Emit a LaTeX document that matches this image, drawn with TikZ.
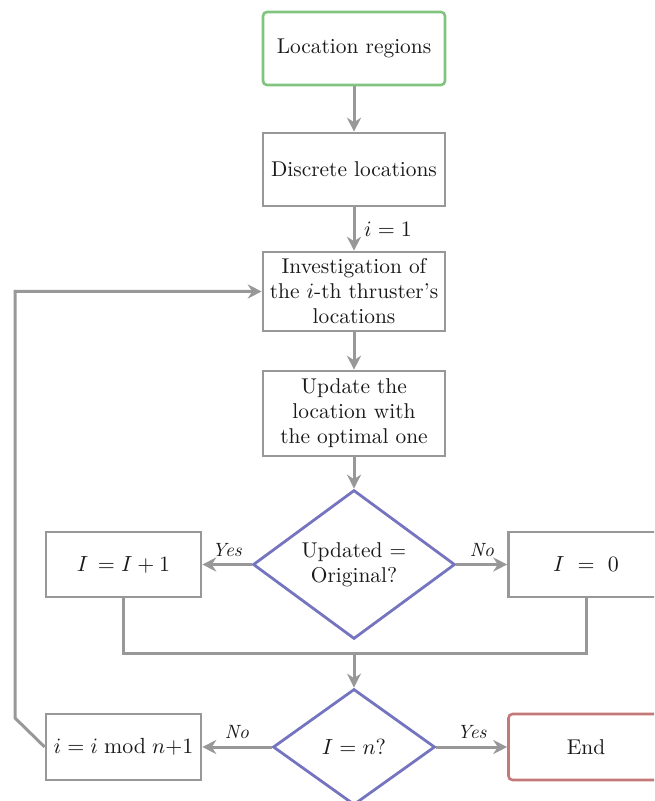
\documentclass[tikz,border=0pt]{standalone}
\usetikzlibrary{shapes.geometric,arrows.meta}
\definecolor{lgray}{RGB}{152,152,152}
\definecolor{lgreen}{RGB}{128,196,128}
\definecolor{lblue}{RGB}{116,116,192}
\definecolor{lred}{RGB}{196,120,120}
\begin{document}
\begin{tikzpicture}[x=0.5pt,y=-0.5pt,
  every node/.style={font=\fontsize{10.7}{12.5}\selectfont, text=black!90},
  box/.style={draw=lgray, line width=1.3pt, align=center, inner sep=2pt},
  topbox/.style={box, minimum width=91pt},
  sidebox/.style={box, minimum width=77.5pt, minimum height=32.5pt},
  startbox/.style={box, draw=lgreen, rounded corners=2pt, minimum width=91pt, minimum height=36.5pt},
  endbox/.style={box, draw=lred, rounded corners=2pt, minimum width=77.5pt, minimum height=33pt},
  dec/.style={diamond, draw=lblue, line width=1.4pt, align=center, inner sep=0pt},
  conn/.style={draw=lgray, line width=1.5pt},
  arr/.style={conn, -{Stealth[length=7pt,width=7pt]}},
  lab/.style={font=\fontsize{9.6}{11}\selectfont\itshape}
]
\useasboundingbox (0,0) rectangle (654,801);
\clip (0,0) rectangle (654,801);
\node[startbox] (loc) at (354,48.5) {Location regions};
\node[topbox, minimum height=36.5pt] (disc) at (354,169.5) {Discrete locations};
\node[topbox, minimum height=39.5pt] (inv) at (354,291.5) {Investigation of\\the $i$-th thruster's\\locations};
\node[topbox, minimum height=42.5pt] (upd) at (354,413.5) {Update the\\location with\\the optimal one};
\node[dec, minimum width=101pt, minimum height=71.5pt] (d1) at (354,564.5) {Updated =\\Original?};
\node[sidebox] (inc) at (123.5,564.5) {$I\,=I+1$};
\node[sidebox] (zero) at (586,564.5) {$I~=~0$};
\coordinate (merge) at (354,653);
\node[dec, minimum width=81pt, minimum height=58pt] (d2) at (354,747) {$I=n?$};
\node[sidebox, minimum height=33pt] (mod) at (123.5,747) {$i=i\bmod n{+}1$};
\node[endbox] (end) at (586,747) {End};
\coordinate (bend) at (15,718);

\draw[arr] (loc) -- (disc);
\draw[arr] (disc) -- node[right, xshift=1pt] {$i=1$} (inv);
\draw[arr] (inv) -- (upd);
\draw[arr] (upd) -- (d1);
\draw[arr] (d1) -- node[lab, above] {Yes} (inc);
\draw[arr] (d1) -- node[lab, above] {No} (zero);
\draw[conn] (inc.south) |- (merge) -| (zero.south);
\draw[arr] (merge) -- (d2.north);
\draw[arr] (d2) -- node[lab, above] {No} (mod);
\draw[arr] (d2) -- node[lab, above] {Yes} (end);
\draw[arr] (mod.west) -- (bend) |- (inv.west);
\end{tikzpicture}
\end{document}
